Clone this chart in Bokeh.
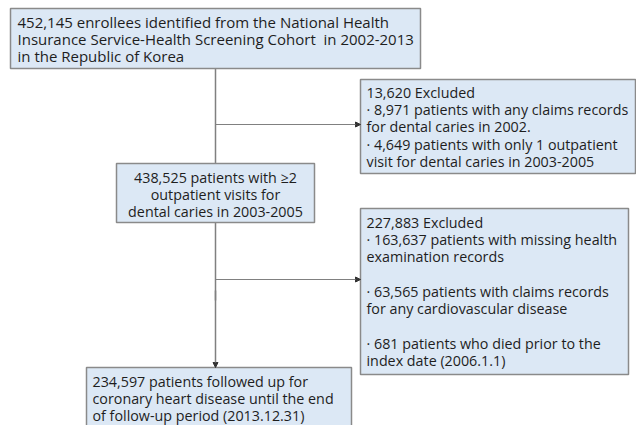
from bokeh.plotting import figure
from bokeh.models import Range1d, Arrow, NormalHead, ColumnDataSource
from bokeh.core.properties import value
from bokeh.embed import file_html
from bokeh.resources import INLINE

# ---- data: flowchart counts and texts ----
enrolled_lines = ["452,145 enrollees identified from the National Health",
                  "Insurance Service-Health Screening Cohort \u00a0in 2002-2013",
                  "in the Republic of Korea"]
excl1_lines = ["13,620 Excluded",
               "\u00b7 8,971 patients with any claims records",
               "for dental caries in 2002.",
               "\u00b7 4,649 patients with only 1 outpatient",
               "visit for dental caries in 2003-2005"]
mid_lines = ["438,525 patients with \u22652",
             "outpatient visits for",
             "dental caries in 2003-2005"]
excl2_lines = ["227,883 Excluded",
               "\u00b7 163,637 patients with missing health",
               "examination records",
               "",
               "\u00b7 63,565 patients with claims records",
               "for any cardiovascular disease",
               "",
               "\u00b7 681 patients who died prior to the",
               "index date (2006.1.1)"]
final_lines = ["234,597 patients followed up for",
               "coronary heart disease until the end",
               "of follow-up period (2013.12.31)"]

# ---- layout (page pixel coordinates) ----
boxes = [  # left, right, top, bottom
    (10, 420, 8, 68),
    (360, 635, 79, 173),
    (116, 314, 163, 222),
    (360, 628, 208, 374),
    (86, 351, 367, 440),
]
FILL = "#dce8f5"
EDGE = "#8a8a8a"
LINE = "#808080"
TXT = "#1e1e1e"
FONT = "Open Sans"

p = figure(width=636, height=425, output_backend="svg", toolbar_location=None,
           x_range=Range1d(0, 636), y_range=Range1d(425, 0), min_border=0)
p.axis.visible = False
p.grid.visible = False
p.outline_line_color = None
p.background_fill_color = "white"

# connectors
p.line([215, 215], [68, 163], line_color=LINE, line_width=1.5)
p.line([215, 215], [222, 300], line_color=LINE, line_width=1.5)
for y in (124, 279):
    p.add_layout(Arrow(end=NormalHead(size=5, fill_color="#333333", line_color="#333333"),
                       x_start=215, y_start=y, x_end=360, y_end=y,
                       line_color=LINE, line_width=1.2))
p.add_layout(Arrow(end=NormalHead(size=5, fill_color="#333333", line_color="#333333"),
                   x_start=215, y_start=290, x_end=215, y_end=367,
                   line_color=LINE, line_width=1.5))

# boxes
src = ColumnDataSource(dict(
    l=[b[0] for b in boxes], r=[b[1] for b in boxes],
    t=[b[2] for b in boxes], b=[b[3] for b in boxes]))
p.quad(left="l", right="r", top="t", bottom="b", source=src,
       fill_color=FILL, line_color=EDGE, line_width=1.5)

def put(lines, x, y0, dy, fs="14.3px", align="left"):
    ys = [y0 + i * dy for i in range(len(lines))]
    p.text(x=[x] * len(lines), y=ys, text=lines, text_font=value(FONT),
           text_font_size=fs, text_color=TXT, text_align=align,
           text_baseline="middle")

put(enrolled_lines, 17, 21.5, 16.8, fs="15px")
put(excl1_lines, 366, 91.7, 17.3)
put(mid_lines, 215, 176.7, 17.2, align="center")
put(excl2_lines, 366, 221.7, 17.3)
put(final_lines, 92, 380.7, 17.2)

open("out.html", "w").write(file_html(p, INLINE))
